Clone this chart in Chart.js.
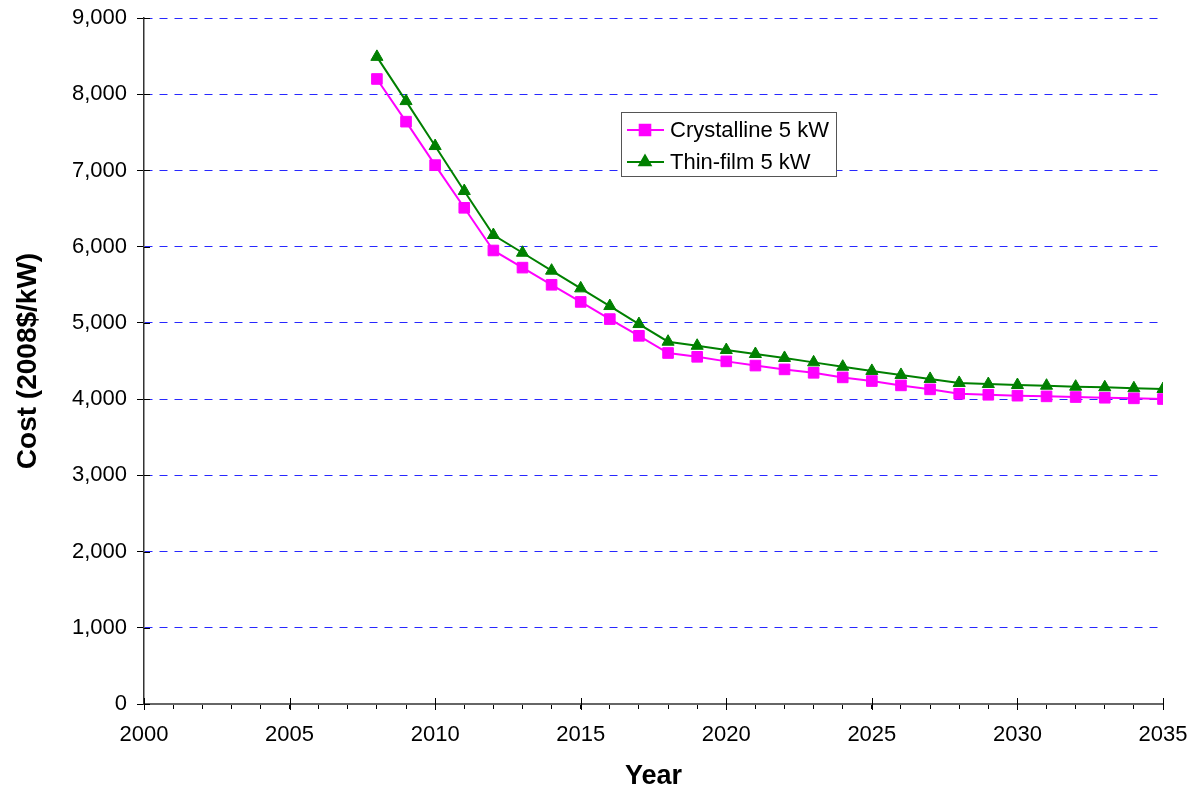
<!DOCTYPE html>
<html>
<head>
<meta charset="utf-8">
<script src="https://cdn.jsdelivr.net/npm/chart.js@4.4.0/dist/chart.umd.min.js"></script>
<style>
  html, body { margin: 0; padding: 0; background: #fff; }
  #wrap { position: relative; width: 1194px; height: 793px; }
</style>
</head>
<body>
<div id="wrap"><canvas id="myChart"></canvas></div>
<script>
// dados
const years = [2008, 2009, 2010, 2011, 2012, 2013, 2014, 2015, 2016, 2017, 2018,
  2019, 2020, 2021, 2022, 2023, 2024, 2025, 2026, 2027, 2028, 2029, 2030,
  2031, 2032, 2033, 2034, 2035];
const crystalline = [8200, 7640, 7070, 6510, 5950, 5725, 5500, 5275, 5050, 4830, 4605,
  4555, 4495, 4440, 4390, 4345, 4285, 4237, 4180, 4128, 4070, 4057, 4045,
  4036, 4027, 4018, 4010, 4001];
const thinFilm = [8490, 7910, 7320, 6730, 6153, 5920, 5685, 5453, 5221, 4985, 4753,
  4700, 4644, 4592, 4540, 4482, 4425, 4370, 4317, 4265, 4212, 4198, 4185,
  4176, 4163, 4155, 4142, 4133];
const seriesNames = ['Crystalline 5 kW', 'Thin-film 5 kW'];
const xMin = 2000, xMax = 2035;
const yMin = 0, yMax = 9000, yStep = 1000;

const MAGENTA = '#ff00ff';
const GREEN = '#008000';
const FONT = 'Arial, "Liberation Sans", sans-serif';

function pts(vals) {
  return years.map((y, i) => ({ x: y, y: vals[i] }));
}

// ticks maiores cruzando o eixo + legenda desenhada a mao
const extras = {
  id: 'extras',
  afterDraw(chart) {
    const ctx = chart.ctx;
    const xs = chart.scales.x, ys = chart.scales.y;
    const ca = chart.chartArea;
    ctx.save();
    ctx.strokeStyle = '#000';
    ctx.lineWidth = 1;
    for (let v = xMin; v <= xMax; v += 5) {
      const px = Math.round(xs.getPixelForValue(v)) + 0.5;
      ctx.beginPath();
      ctx.moveTo(px, ca.bottom - 6);
      ctx.lineTo(px, ca.bottom + 6);
      ctx.stroke();
    }
    for (let v = yMin; v <= yMax; v += yStep) {
      const py = Math.round(ys.getPixelForValue(v)) + 0.5;
      ctx.beginPath();
      ctx.moveTo(ca.left, py);
      ctx.lineTo(ca.left + 6, py);
      ctx.stroke();
    }

    // legenda
    const bx = 621, by = 112, bw = 215, bh = 64;
    ctx.fillStyle = '#fff';
    ctx.fillRect(bx, by, bw, bh);
    ctx.strokeStyle = '#555';
    ctx.lineWidth = 1;
    ctx.strokeRect(bx + 0.5, by + 0.5, bw, bh);
    const rows = [
      { name: seriesNames[0], color: MAGENTA, style: 'rect', r: 7.5, y: 130 },
      { name: seriesNames[1], color: GREEN, style: 'triangle', r: 6.5, y: 162 }
    ];
    rows.forEach(r => {
      ctx.strokeStyle = r.color;
      ctx.lineWidth = 2;
      ctx.beginPath();
      ctx.moveTo(627, r.y);
      ctx.lineTo(664, r.y);
      ctx.stroke();
      Chart.helpers.drawPoint(ctx, { pointStyle: r.style, radius: r.r, borderWidth: 1, rotation: 0 }, 645, r.y);
      ctx.fillStyle = r.color;
      ctx.fill();
      ctx.fillStyle = '#000';
      ctx.font = '22px ' + FONT;
      ctx.textBaseline = 'middle';
      ctx.textAlign = 'left';
      ctx.fillText(r.name, 670, r.y + 1);
    });
    ctx.restore();
  }
};

const ctx = document.getElementById('myChart');
new Chart(ctx, {
  type: 'line',
  data: {
    datasets: [
      {
        label: seriesNames[0],
        data: pts(crystalline),
        borderColor: MAGENTA,
        backgroundColor: MAGENTA,
        borderWidth: 2,
        pointStyle: 'rect',
        pointRadius: 7.5,
        pointBorderWidth: 1,
        pointBackgroundColor: MAGENTA,
        pointBorderColor: MAGENTA,
        tension: 0
      },
      {
        label: seriesNames[1],
        data: pts(thinFilm),
        borderColor: GREEN,
        backgroundColor: GREEN,
        borderWidth: 2,
        pointStyle: 'triangle',
        pointRadius: 7,
        pointBorderWidth: 1,
        pointBackgroundColor: GREEN,
        pointBorderColor: GREEN,
        tension: 0
      }
    ]
  },
  options: {
    responsive: true,
    maintainAspectRatio: false,
    animation: false,
    layout: { padding: { left: 0, right: 31, top: 18, bottom: 0 } },
    plugins: {
      legend: { display: false },
      tooltip: { enabled: false }
    },
    scales: {
      x: {
        type: 'linear',
        min: xMin,
        max: xMax,
        afterFit: (s) => { s.height = 89; s.paddingLeft = 0; s.paddingRight = 0; },
        ticks: {
          stepSize: 1,
          autoSkip: false,
          maxRotation: 0,
          padding: 13,
          color: '#000',
          font: { family: FONT, size: 22 },
          callback: (v) => (v % 5 === 0 ? String(v) : '')
        },
        grid: {
          drawOnChartArea: false,
          tickLength: 5,
          color: '#000',
          tickColor: '#000'
        },
        border: { display: true, color: '#666', width: 2 },
        title: {
          display: true,
          text: 'Year',
          color: '#000',
          font: { family: FONT, size: 27, weight: 'bold' },
          padding: { top: 0, bottom: 0 }
        }
      },
      y: {
        min: yMin,
        max: yMax,
        afterFit: (s) => { s.width = 144; s.paddingTop = 0; s.paddingBottom = 0; },
        ticks: {
          stepSize: yStep,
          padding: 10,
          color: '#000',
          font: { family: FONT, size: 22 },
          callback: (v) => v.toLocaleString('en-US')
        },
        grid: {
          color: (c) => (c.tick && c.tick.value === 0 ? 'rgba(0,0,0,0)' : '#2828ff'),
          lineWidth: 1,
          tickLength: 7,
          tickColor: '#000'
        },
        border: { display: true, color: '#333', width: 1.5, dash: [8, 7] },
        title: {
          display: true,
          text: 'Cost (2008$/kW)',
          color: '#000',
          font: { family: FONT, size: 28, weight: 'bold' },
          padding: { top: 11, bottom: 0 }
        }
      }
    }
  },
  plugins: [extras]
});
</script>
</body>
</html>
